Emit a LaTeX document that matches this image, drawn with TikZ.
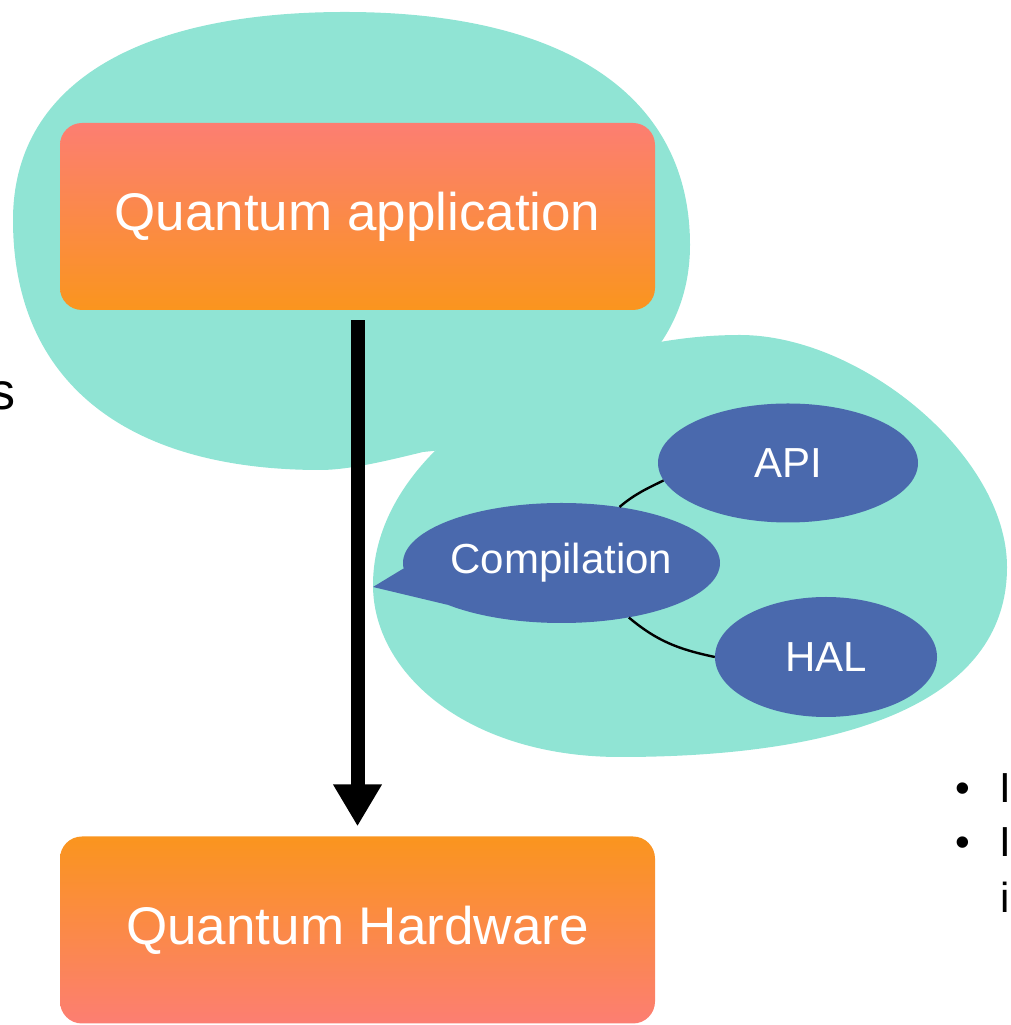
\documentclass[tikz,border=0pt]{standalone}
\usepackage{fontspec}
\setmainfont{Liberation Sans}
\usetikzlibrary{positioning, shapes.geometric, arrows.meta}

\definecolor{blobteal}{HTML}{90E4D4}
\definecolor{ovalblue}{HTML}{4A69AD}
\definecolor{boxsalmon}{HTML}{FC7E72}
\definecolor{boxorange}{HTML}{FA951E}

\begin{document}
\begin{tikzpicture}[x=1pt, y=1pt,
  layer/.style={rectangle, rounded corners=22pt, minimum width=595pt, minimum height=187pt, inner sep=0pt, text=white, font=\fontsize{53}{60}\selectfont},
  oval/.style={ellipse, fill=ovalblue, inner sep=0pt, text=white, font=\fontsize{42}{48}\selectfont},
  link/.style={line width=2.4pt},
  flow/.style={line width=14pt, -{Triangle[width=46pt, length=42pt]}, shorten <=10pt, shorten >=10pt},
  side/.style={anchor=base, inner sep=0pt, font=\fontsize{42}{48}\selectfont}]
  \useasboundingbox (0,0) rectangle (1010,1025);
  \clip (0,0) rectangle (1010,1025);

  % the two bubbles
  \fill[blobteal] (13,805) .. controls (13,938) and (133,1013) .. (345,1013)
    .. controls (566,1013) and (690,929) .. (690,780)
    .. controls (690,670) and (600,590) .. (423,573)
    .. controls (390,565) and (350,555) .. (320,555)
    .. controls (124,555) and (13,645) .. cycle;
  \fill[blobteal] (373,440) .. controls (373,580) and (560,690) .. (740,690)
    .. controls (860,690) and (1007,570) .. (1007,458)
    .. controls (1007,320) and (840,268) .. (620,268)
    .. controls (470,268) and (373,350) .. cycle;

  \node[layer, top color=boxsalmon, bottom color=boxorange] (app) at (357.5,808.5) {Quantum application};
  \node[layer, top color=boxorange, bottom color=boxsalmon] (hw)  at (357.5,95)    {Quantum Hardware};
  \draw[flow] (app) -- (hw);

  \node[oval, minimum width=317pt, minimum height=120pt] (comp) at (561.5,462) {Compilation};
  \coordinate (tail) at (373,438);
  \fill[ovalblue] (comp.182) -- (tail) -- (comp.200) -- cycle;
  \node[oval, minimum width=260pt, minimum height=119pt] (api) at (788,562) {API};
  \node[oval, minimum width=222pt, minimum height=120pt] (hal) at (826,368) {HAL};

  \draw[link] (comp.44)  to[out=40, in=206]  (api.188);
  \draw[link] (comp.-39) to[out=-40, in=168] (hal.west);

  % cut-off text at the edges
  \node[anchor=base east, inner sep=0pt, font=\fontsize{52}{60}\selectfont] (cut) at (15.5,615) {s};
  \node[side] (dot1) at (963,222) {•};
  \node[side] (dot2) at (963,168) {•};
  \node[side, anchor=base west] (word1) at (999,222) {I};
  \node[side, anchor=base west] (word2) at (999,168) {I};
  \node[side, anchor=base west] (word3) at (1000,112) {i};
\end{tikzpicture}
\end{document}
